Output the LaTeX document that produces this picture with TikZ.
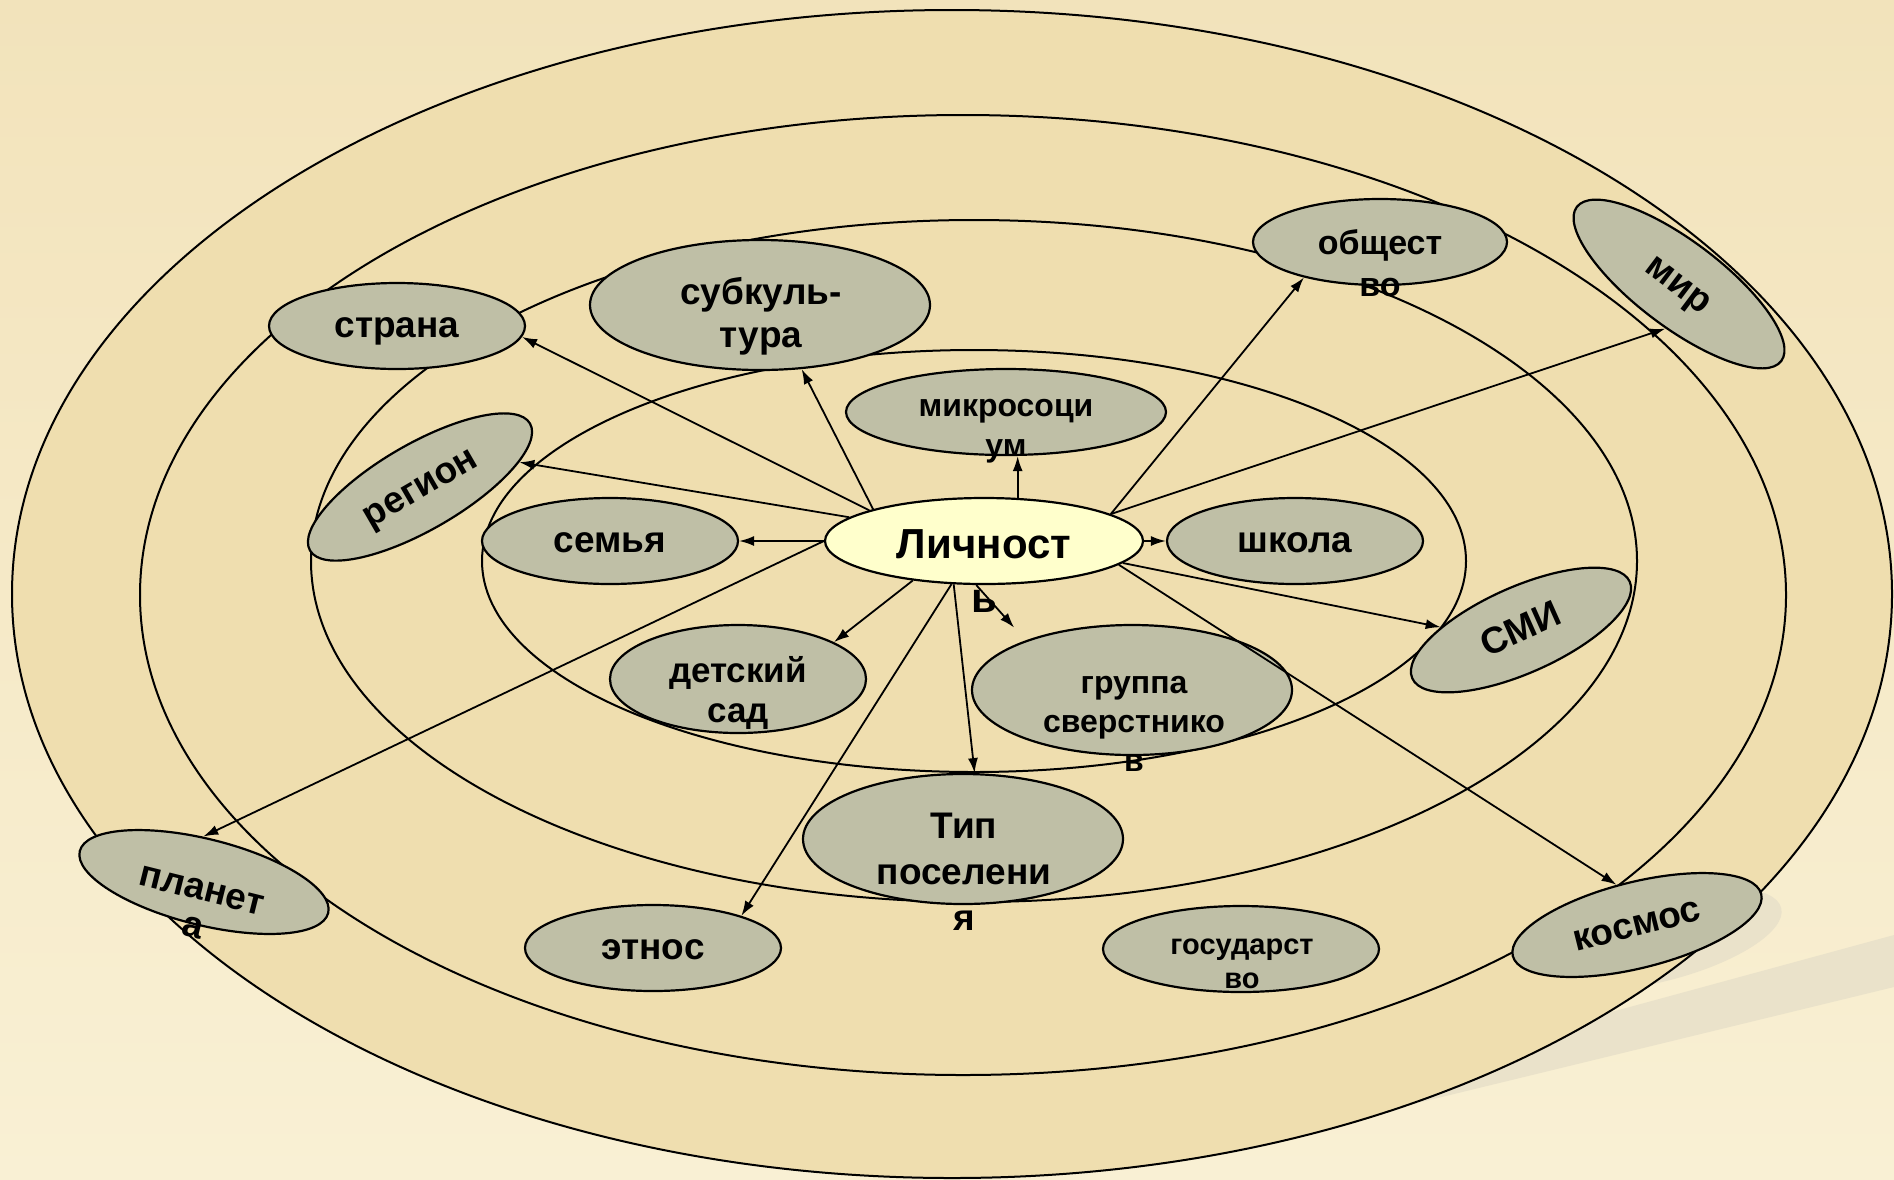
\documentclass[tikz,border=0pt]{standalone}
\usepackage{fontspec}
\setmainfont{Liberation Sans}
\usetikzlibrary{shapes.geometric,arrows.meta}
\definecolor{bgtop}{RGB}{242,227,187}
\definecolor{bgbot}{RGB}{249,240,212}
\definecolor{ringfill}{RGB}{239,222,175}
\definecolor{bubfill}{RGB}{191,191,166}
\definecolor{persfill}{RGB}{255,255,204}
\definecolor{shadowc}{RGB}{234,226,202}
\tikzset{
  ring/.style={draw=black, fill=ringfill, line width=2pt},
  bub/.style={ellipse, draw=black, fill=bubfill, line width=2.2pt, inner sep=0pt,
    minimum width=256pt, minimum height=86pt, text height=22pt, text depth=0pt,
    font=\bfseries\fontsize{37}{43}\selectfont},
  txt/.style 2 args={inner sep=0pt, align=center, font=\bfseries\fontsize{#1}{#2}\selectfont},
  arr/.style={-{Latex[length=15pt,width=10pt]}, line width=1.8pt},
}

\begin{document}
\begin{tikzpicture}[x=1pt,y=-1pt]
     \useasboundingbox (0,0) rectangle (1894,1179);
     %Background
     \shade[top color=bgtop, bottom color=bgbot] (0,0) rectangle (1894,1179);
     %Shape: shadow band
     \fill[shadowc] (1894,935) -- (1894,987) -- (1380,1112) -- (1380,1075) -- cycle;
     \fill[shadowc, rotate around={14:(1657,939)}] (1657,939) ellipse [x radius=128, y radius=43];
     %Shape: Ellipse rings
     \filldraw[ring] (952,594) ellipse [x radius=940, y radius=584];
     \filldraw[ring] (963,595) ellipse [x radius=823, y radius=480];
     \filldraw[ring] (974,561) ellipse [x radius=663, y radius=341];
     \filldraw[ring] (974,561) ellipse [x radius=492, y radius=211];
     %Shape: Ellipse nodes
     \node[bub, fill=persfill, minimum width=318pt] (pers) at (984,541) {};
     \node[bub] (semya) at (610,541) {семья};
     \node[bub] (shkola) at (1295,541) {школа};
     \node[bub, minimum width=320pt] (mikro) at (1006,412) {};
     \node[bub, minimum width=340pt, minimum height=130pt] (subk) at (760,305) {};
     \node[bub] (strana) at (397,326) {страна};
     \node[bub, minimum width=254pt, rotate=30] (region) at (420,487) {регион};
     \node[bub, minimum width=254pt] (obshch) at (1380,242) {};
     \node[bub, rotate=-37] (mir) at (1679,284) {мир};
     \node[bub, minimum width=238pt, rotate=24] (smi) at (1521,630) {СМИ};
     \node[bub, minimum height=108pt] (detsad) at (738,679) {};
     \node[bub, minimum width=320pt, minimum height=130pt] (gruppa) at (1132,690) {};
     \node[bub, minimum width=320pt, minimum height=130pt] (poselen) at (963,839) {};
     \node[bub] (etnos) at (653,948) {этнос};
     \node[bub, minimum width=276pt] (gosud) at (1241,949) {};
     \node[bub, rotate=-14] (planeta) at (204,882) {};
     \node[bub, rotate=14] (kosmos) at (1637,925) {космос};
     %Straight Lines: arrows
     \draw[arr] (pers.180) -- (semya.0);
     \draw[arr] (pers.0) -- (shkola.180);
     \draw[arr] (pers.52) -- (pers.52 |- mikro.south);
     \draw[arr] (pers.164) -- (subk.-57);
     \draw[arr] (pers.165) -- (strana.-5);
     \draw[arr] (pers.170) -- (region.-16);
     \draw[arr] (pers.180) -- (planeta.105);
     \draw[arr] (pers.209) -- (detsad.21);
     \draw[arr] (pers.233) -- (etnos.20);
     \draw[arr] (pers.235) -- (poselen.80);
     \draw[arr, shorten >=17pt] (pers.260) -- (gruppa.155);
     \draw[arr] (pers.-9) -- (smi.154);
     \draw[arr] (pers.-10) -- (kosmos.103);
     \draw[arr] (pers.12) -- (mir.-70);
     \draw[arr] (pers.12) -- (obshch.205);
     % Text Node
     \node[txt={42}{54}] (persT) at (984,571) {Личност\\ь};
     % Text Node
     \node[txt={32}{40}] (mikroT) at (1006,431) {микросоци\\ум};
     % Text Node
     \node[txt={37}{43}] (subkT) at (761,316) {субкуль-\\тура};
     % Text Node
     \node[txt={34}{42}] (obshchT) at (1380,263) {общест\\во};
     % Text Node
     \node[txt={35}{40}] (detsadT) at (738,693) {детский\\сад};
     % Text Node
     \node[txt={32}{39}] (gruppaT) at (1134,724) {группа\\сверстнико\\в};
     % Text Node
     \node[txt={37}{46}] (poselenT) at (964,872) {Тип\\поселени\\я};
     % Text Node
     \node[txt={29}{34}] (gosudT) at (1242,964) {государст\\во};
     % Text Node
     \node[txt={37}{38}, rotate=-14] (planetaT) at (197,909) {планет\\а};
\end{tikzpicture}
\end{document}
